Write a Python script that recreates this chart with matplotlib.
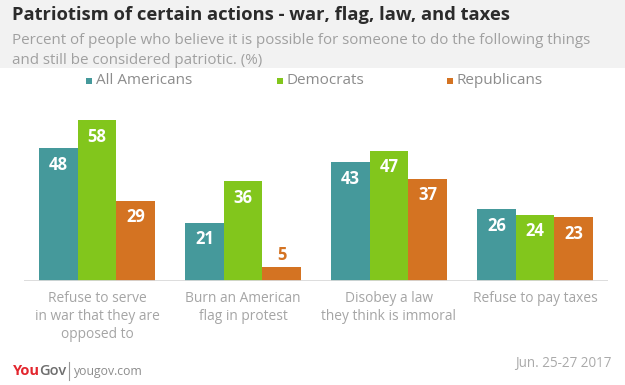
import matplotlib
matplotlib.use("Agg")
import matplotlib.pyplot as plt
from matplotlib.patches import Rectangle

categories = ["Refuse to serve\nin war that they are\nopposed to",
              "Burn an American\nflag in protest",
              "Disobey a law\nthey think is immoral",
              "Refuse to pay taxes"]
series_names = ["All Americans", "Democrats", "Republicans"]
all_americans = [48, 21, 43, 26]
democrats = [58, 36, 47, 24]
republicans = [29, 5, 37, 23]
colors = ["#45999b", "#82c61c", "#d47322"]

W, H = 625, 385
fig = plt.figure(figsize=(W/100, H/100), dpi=100)
fig.patch.set_facecolor("white")
renderer = fig.canvas.get_renderer()

def fx(px): return px / W
def fy(py): return 1 - py / H

FONT = "Open Sans"

def fit(t, width_px):
    w = t.get_window_extent(renderer=renderer).width
    t.set_fontsize(t.get_fontsize() * width_px / w)
    return t

def fit_size(text, width_px, **kw):
    t = fig.text(0, 0, text, fontsize=10, family=FONT, **kw)
    w = t.get_window_extent(renderer=renderer).width
    t.remove()
    return 10 * width_px / w

# header background
fig.patches.append(Rectangle((0, fy(68)), 1, 68/H, transform=fig.transFigure,
                             facecolor="#f2f2f2", edgecolor="none", zorder=0))
t = fig.text(fx(12), fy(15), "Patriotism of certain actions - war, flag, law, and taxes",
             fontsize=12, fontweight="bold", color="#2b2b2b", family=FONT, va="center")
fit(t, 498)
sub_size = fit_size("Percent of people who believe it is possible for someone to do the following things", 581)
fig.text(fx(12), fy(40), "Percent of people who believe it is possible for someone to do the following things",
         fontsize=sub_size, color="#a0a0a0", family=FONT, va="center")
fig.text(fx(12), fy(60), "and still be considered patriotic. (%)",
         fontsize=sub_size, color="#a0a0a0", family=FONT, va="center")

# legend
leg_size = fit_size("All Americans", 96)
leg_x = [86, 277, 447]
for lx, name, c in zip(leg_x, series_names, colors):
    fig.patches.append(Rectangle((fx(lx), fy(84)), 6/W, 6/H, transform=fig.transFigure,
                                 facecolor=c, edgecolor="none"))
    fig.text(fx(lx + 10), fy(81), name, fontsize=leg_size, color="#8c8c8c", family=FONT, va="center")

ymax = (281 - 100) / 2.77
ax = fig.add_axes([fx(24), fy(281), (608 - 24)/W, (281 - 100)/H])
ax.set_xlim(-0.5, 3.5)
ax.set_ylim(0, ymax)
ax.axis("off")

bw = 0.264
data = [all_americans, democrats, republicans]
for i, (vals, c) in enumerate(zip(data, colors)):
    xs = [k + (i - 1) * bw for k in range(len(categories))]
    ax.bar(xs, vals, width=bw, color=c, edgecolor="none", zorder=2)
    for x, v in zip(xs, vals):
        if v >= 10:
            ax.text(x, v - 6.0, str(v), ha="center", va="center", color="white",
                    fontsize=12, fontweight="bold", family=FONT, zorder=3)
        else:
            ax.text(x, v + 4.5, str(v), ha="center", va="center", color=c,
                    fontsize=12, fontweight="bold", family=FONT, zorder=3)
ax.axhline(0, color="#d9d9d9", lw=2, zorder=4)

cat_size = fit_size("Refuse to pay taxes", 125)
for k, cat in enumerate(categories):
    fig.text(fx(97 + 146 * k), fy(291), cat, ha="center", va="top", color="#a5a5a5",
             fontsize=cat_size, family=FONT, linespacing=1.27)

# footer
t1 = fig.text(fx(13), fy(371), "You", fontsize=10.5, fontweight="bold", color="#e3262e",
              family=FONT, va="center")
w1 = t1.get_window_extent(renderer=renderer).width
fig.text(fx(13 + w1 - 1), fy(371), "Gov", fontsize=10.5, color="#6e6e6e", family=FONT,
         va="center", fontweight="semibold")
fig.lines.append(plt.Line2D([fx(69), fx(69)], [fy(362), fy(380)], transform=fig.transFigure,
                            color="#999999", lw=0.8))
foot_size = fit_size("yougov.com", 69)
fig.text(fx(74), fy(371), "yougov.com", fontsize=foot_size, color="#8c8c8c", family=FONT, va="center")
date_size = fit_size("Jun. 25-27 2017", 97)
fig.text(fx(611), fy(363), "Jun. 25-27 2017", fontsize=date_size, color="#aaaaaa", family=FONT,
         va="center", ha="right")

fig.savefig("out.png", dpi=100)
